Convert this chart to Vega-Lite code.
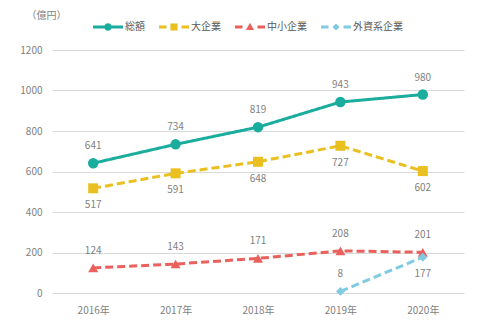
{
  "$schema": "https://vega.github.io/schema/vega-lite/v6.json",
  "width": 412,
  "height": 243,
  "autosize": {"type": "none"},
  "padding": {"left": 52, "top": 50, "right": 26, "bottom": 32},
  "background": "white",
  "config": {
    "font": "Noto Sans CJK JP",
    "view": {"stroke": null},
    "axis": {"labelColor": "#7f7f7f", "labelFontSize": 10, "domain": false, "ticks": false}
  },
  "data": {
    "values": [
      {"year": "2016年", "series": "総額", "value": 641},
      {"year": "2017年", "series": "総額", "value": 734},
      {"year": "2018年", "series": "総額", "value": 819},
      {"year": "2019年", "series": "総額", "value": 943},
      {"year": "2020年", "series": "総額", "value": 980},
      {"year": "2016年", "series": "大企業", "value": 517},
      {"year": "2017年", "series": "大企業", "value": 591},
      {"year": "2018年", "series": "大企業", "value": 648},
      {"year": "2019年", "series": "大企業", "value": 727},
      {"year": "2020年", "series": "大企業", "value": 602},
      {"year": "2016年", "series": "中小企業", "value": 124},
      {"year": "2017年", "series": "中小企業", "value": 143},
      {"year": "2018年", "series": "中小企業", "value": 171},
      {"year": "2019年", "series": "中小企業", "value": 208},
      {"year": "2020年", "series": "中小企業", "value": 201},
      {"year": "2019年", "series": "外資系企業", "value": 8},
      {"year": "2020年", "series": "外資系企業", "value": 177}
    ]
  },
  "encoding": {
    "x": {
      "field": "year", "type": "ordinal",
      "scale": {"type": "point", "padding": 0.5},
      "axis": {"title": null, "labelAngle": 0, "labelPadding": 12, "grid": false}
    },
    "y": {
      "field": "value", "type": "quantitative",
      "scale": {"domain": [0, 1200], "nice": false},
      "axis": {
        "values": [0, 200, 400, 600, 800, 1000, 1200],
        "format": "d",
        "grid": true, "gridColor": "#d9d9d9", "gridWidth": 1,
        "labelPadding": 10,
        "title": "（億円）", "titleAngle": 0, "titleFontWeight": "normal",
        "titleFontSize": 10, "titleColor": "#7f7f7f",
        "titleX": -6, "titleY": -35, "titleAlign": "center", "titleBaseline": "middle"
      }
    },
    "color": {
      "field": "series", "type": "nominal",
      "scale": {"domain": ["総額", "大企業", "中小企業", "外資系企業"], "range": ["#1aac9c", "#e9c020", "#e9605c", "#80cbe2"]},
      "legend": {
        "title": null, "orient": "none", "direction": "horizontal",
        "legendX": 41, "legendY": -38, "padding": 0,
        "labelColor": "#595959", "labelFontSize": 10, "labelOffset": 2,
        "symbolSize": 900, "columnPadding": 14, "symbolStrokeWidth": 0,
        "symbolOpacity": 1,
        "encode": {
          "symbols": {
            "update": {
              "shape": {"signal": "datum.value === '総額' ? 'M-1,-0.1H1V0.1H-1Z M-0.25,0A0.25,0.25 0 1,1 0.25,0A0.25,0.25 0 1,1 -0.25,0Z' : datum.value === '大企業' ? 'M-1,-0.1H-0.5V0.1H-1Z M0.5,-0.1H1V0.1H0.5Z M-0.24,-0.24H0.24V0.24H-0.24Z' : datum.value === '中小企業' ? 'M-1,-0.1H-0.5V0.1H-1Z M0.5,-0.1H1V0.1H0.5Z M0,-0.28L0.27,0.2H-0.27Z' : 'M-1,-0.1H-0.5V0.1H-1Z M0.5,-0.1H1V0.1H0.5Z M0,-0.24L0.24,0L0,0.24L-0.24,0Z'"},
              "fill": {"scale": "color", "field": "value"},
              "fillOpacity": {"value": 1},
              "strokeWidth": {"value": 0},
              "size": {"value": 900}
            }
          }
        }
      }
    }
  },
  "layer": [
    {
      "mark": {"type": "line", "strokeWidth": 3},
      "encoding": {
        "strokeDash": {
          "field": "series", "type": "nominal",
          "scale": {"domain": ["総額", "大企業", "中小企業", "外資系企業"], "range": [[1, 0], [8, 4], [8, 4], [8, 4]]},
          "legend": null
        }
      }
    },
    {
      "transform": [{"filter": "datum.series === '総額'"}],
      "mark": {"type": "point", "filled": true, "opacity": 1, "shape": "circle", "size": 110}
    },
    {
      "transform": [{"filter": "datum.series === '大企業'"}],
      "mark": {"type": "point", "filled": true, "opacity": 1, "shape": "square", "size": 100}
    },
    {
      "transform": [{"filter": "datum.series === '中小企業'"}],
      "mark": {"type": "point", "filled": true, "opacity": 1, "shape": "triangle-up", "size": 100}
    },
    {
      "transform": [{"filter": "datum.series === '外資系企業'"}],
      "mark": {"type": "point", "filled": true, "opacity": 1, "shape": "diamond", "size": 80}
    },
    {
      "transform": [{"filter": "datum.series === '総額' || datum.series === '中小企業' || (datum.series === '外資系企業' && datum.year === '2019年')"}],
      "mark": {"type": "text", "dy": -17, "fontSize": 10, "color": "#7f7f7f"},
      "encoding": {"text": {"field": "value", "type": "quantitative", "format": "d"}, "color": {"value": "#7f7f7f"}}
    },
    {
      "transform": [{"filter": "datum.series === '大企業' || (datum.series === '外資系企業' && datum.year === '2020年')"}],
      "mark": {"type": "text", "dy": 17, "fontSize": 10, "color": "#7f7f7f"},
      "encoding": {"text": {"field": "value", "type": "quantitative", "format": "d"}, "color": {"value": "#7f7f7f"}}
    }
  ]
}
